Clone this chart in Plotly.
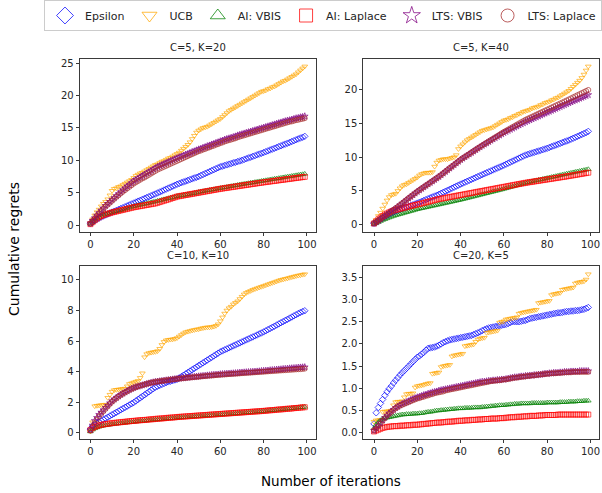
import plotly.graph_objects as go

iterations = list(range(100))
panel_titles = ["C=5, K=20", "C=5, K=40", "C=10, K=10", "C=20, K=5"]
series_names = ["Epsilon", "UCB", "AI: VBIS", "AI: Laplace", "LTS: VBIS", "LTS: Laplace"]

# ---- Panel 1: C=5, K=20 ----
p1_epsilon = [0.20,0.45,0.68,0.90,1.08,1.25,1.40,1.56,1.71,1.86,
2.00,2.14,2.27,2.41,2.55,2.68,2.83,2.97,3.11,3.26,
3.40,3.55,3.69,3.82,3.97,4.11,4.25,4.38,4.53,4.67,
4.80,4.96,5.11,5.25,5.41,5.55,5.71,5.85,6.01,6.15,
6.30,6.42,6.55,6.66,6.79,6.90,7.03,7.14,7.27,7.38,
7.50,7.66,7.80,7.96,8.10,8.25,8.41,8.55,8.71,8.85,
9.00,9.10,9.21,9.30,9.41,9.50,9.61,9.70,9.81,9.90,
10.00,10.13,10.24,10.37,10.48,10.61,10.72,10.85,10.96,11.09,
11.20,11.33,11.46,11.60,11.72,11.86,11.98,12.12,12.24,12.38,
12.50,12.64,12.76,12.90,13.03,13.17,13.30,13.44,13.56,13.70]
p1_ucb = [0.30,0.90,1.50,2.00,2.40,2.90,3.30,3.60,4.00,4.60,
5.30,5.60,5.70,5.90,6.00,6.20,6.40,6.60,6.80,7.00,
7.30,7.60,7.80,8.00,8.10,8.30,8.50,8.70,8.90,9.10,
9.30,9.40,9.60,9.80,9.90,10.10,10.30,10.40,10.60,10.80,
11.00,11.20,11.50,11.80,12.10,12.40,12.80,13.30,13.80,14.30,
14.60,14.80,15.00,15.10,15.20,15.40,15.60,15.80,16.00,16.20,
16.40,16.70,17.00,17.30,17.60,17.80,18.00,18.20,18.40,18.60,
18.80,19.00,19.20,19.40,19.60,19.80,20.00,20.20,20.40,20.60,
20.70,20.80,21.00,21.10,21.30,21.40,21.60,21.80,22.00,22.20,
22.30,22.50,22.70,22.90,23.10,23.30,23.60,23.90,24.20,24.50]
p1_ai_vbis = [0.20,0.50,0.80,1.05,1.25,1.45,1.60,1.70,1.80,1.90,
2.00,2.08,2.15,2.22,2.30,2.40,2.50,2.60,2.70,2.80,
2.90,2.97,3.05,3.12,3.20,3.27,3.35,3.42,3.50,3.57,
3.65,3.73,3.81,3.89,3.97,4.05,4.13,4.20,4.27,4.35,
4.45,4.51,4.57,4.63,4.69,4.75,4.81,4.87,4.93,4.99,
5.10,5.16,5.22,5.28,5.34,5.40,5.46,5.52,5.58,5.64,
5.70,5.76,5.82,5.88,5.94,6.00,6.06,6.12,6.18,6.24,
6.30,6.35,6.41,6.46,6.52,6.57,6.63,6.68,6.74,6.79,
6.85,6.91,6.96,7.02,7.07,7.13,7.18,7.24,7.29,7.35,
7.40,7.46,7.51,7.57,7.62,7.68,7.73,7.79,7.84,7.90]
p1_ai_laplace = [0.15,0.45,0.75,1.00,1.20,1.40,1.55,1.65,1.75,1.85,
1.95,2.03,2.11,2.19,2.27,2.35,2.43,2.51,2.59,2.67,
2.75,2.81,2.87,2.93,2.99,3.05,3.11,3.17,3.23,3.29,
3.35,3.45,3.55,3.66,3.76,3.86,3.96,4.07,4.18,4.29,
4.40,4.46,4.52,4.58,4.64,4.70,4.76,4.82,4.88,4.94,
5.00,5.06,5.12,5.18,5.24,5.30,5.36,5.42,5.48,5.54,
5.60,5.65,5.70,5.75,5.80,5.85,5.90,5.95,6.00,6.05,
6.10,6.15,6.20,6.25,6.30,6.35,6.40,6.45,6.50,6.55,
6.60,6.64,6.69,6.73,6.78,6.82,6.87,6.91,6.96,7.00,
7.05,7.09,7.14,7.18,7.23,7.27,7.32,7.36,7.41,7.45]
p1_lts_vbis = [0.30,0.70,1.10,1.50,1.90,2.30,2.60,3.00,3.30,3.60,
3.90,4.20,4.50,4.80,5.10,5.40,5.70,6.00,6.20,6.50,
6.80,7.00,7.20,7.40,7.60,7.80,8.00,8.20,8.40,8.60,
8.80,9.00,9.15,9.30,9.45,9.60,9.75,9.90,10.05,10.20,
10.35,10.50,10.60,10.75,10.90,11.00,11.15,11.30,11.40,11.55,
11.70,11.80,11.95,12.05,12.20,12.30,12.45,12.55,12.70,12.80,
12.95,13.05,13.20,13.30,13.40,13.50,13.60,13.70,13.85,13.95,
14.05,14.15,14.25,14.35,14.45,14.55,14.65,14.75,14.85,14.95,
15.05,15.15,15.25,15.35,15.45,15.55,15.65,15.75,15.85,15.95,
16.05,16.15,16.20,16.30,16.40,16.50,16.55,16.65,16.70,16.80]
p1_lts_laplace = [0.25,0.65,1.05,1.45,1.80,2.15,2.50,2.85,3.15,3.45,
3.75,4.05,4.35,4.60,4.90,5.15,5.40,5.65,5.90,6.15,
6.40,6.60,6.80,7.00,7.20,7.35,7.55,7.75,7.95,8.15,
8.35,8.55,8.70,8.85,9.00,9.15,9.30,9.45,9.60,9.75,
9.90,10.05,10.20,10.35,10.50,10.65,10.80,10.95,11.10,11.25,
11.40,11.50,11.65,11.75,11.90,12.00,12.15,12.25,12.40,12.50,
12.65,12.75,12.90,13.00,13.10,13.20,13.30,13.40,13.55,13.65,
13.75,13.85,13.95,14.05,14.15,14.25,14.35,14.45,14.55,14.65,
14.75,14.85,14.95,15.05,15.15,15.25,15.35,15.45,15.55,15.65,
15.75,15.85,15.95,16.00,16.10,16.20,16.25,16.35,16.40,16.50]

# ---- Panel 2: C=5, K=40 ----
p2_epsilon = [0.20,0.40,0.62,0.82,1.02,1.20,1.38,1.55,1.70,1.85,
2.00,2.12,2.24,2.36,2.48,2.60,2.72,2.84,2.96,3.08,
3.20,3.33,3.46,3.59,3.72,3.85,3.98,4.11,4.24,4.37,
4.50,4.65,4.80,4.95,5.10,5.25,5.40,5.55,5.70,5.85,
6.00,6.14,6.28,6.42,6.56,6.70,6.84,6.98,7.12,7.26,
7.40,7.54,7.68,7.82,7.96,8.10,8.24,8.38,8.52,8.66,
8.80,8.95,9.10,9.25,9.40,9.55,9.70,9.85,10.00,10.15,
10.30,10.40,10.50,10.60,10.70,10.80,10.90,11.00,11.10,11.20,
11.30,11.42,11.54,11.66,11.78,11.90,12.02,12.14,12.26,12.38,
12.50,12.64,12.78,12.92,13.06,13.20,13.34,13.48,13.62,13.80]
p2_ucb = [0.20,0.70,1.30,1.80,2.40,3.00,3.60,4.10,4.40,4.50,
4.60,5.00,5.40,5.70,5.90,6.00,6.20,6.40,6.60,6.80,
7.00,7.30,7.50,7.60,7.70,7.70,7.70,7.80,8.60,9.20,
9.50,9.60,9.70,9.70,9.70,9.80,9.90,10.00,10.30,11.20,
11.60,11.90,12.20,12.50,12.70,12.90,13.10,13.30,13.50,13.70,
13.90,14.00,14.10,14.20,14.30,14.40,14.60,14.80,15.00,15.20,
15.40,15.50,15.60,15.80,15.90,16.10,16.20,16.40,16.50,16.70,
16.80,16.90,17.00,17.20,17.30,17.40,17.50,17.70,17.80,18.00,
18.10,18.20,18.40,18.50,18.70,18.80,19.00,19.20,19.40,19.60,
19.80,20.10,20.40,20.70,21.00,21.30,21.70,22.20,22.80,23.40]
p2_ai_vbis = [0.10,0.25,0.40,0.55,0.70,0.82,0.95,1.07,1.18,1.29,
1.40,1.49,1.58,1.67,1.76,1.85,1.94,2.03,2.12,2.21,
2.30,2.37,2.44,2.51,2.58,2.65,2.72,2.79,2.86,2.93,
3.00,3.07,3.14,3.21,3.28,3.35,3.42,3.49,3.56,3.63,
3.70,3.78,3.86,3.94,4.02,4.10,4.18,4.26,4.34,4.42,
4.50,4.58,4.66,4.74,4.82,4.90,4.98,5.06,5.14,5.22,
5.30,5.39,5.48,5.57,5.66,5.75,5.84,5.93,6.02,6.11,
6.20,6.27,6.34,6.41,6.48,6.55,6.62,6.69,6.76,6.83,
6.90,6.97,7.04,7.11,7.18,7.25,7.32,7.39,7.46,7.53,
7.60,7.67,7.73,7.80,7.87,7.93,8.00,8.07,8.13,8.20]
p2_ai_laplace = [0.20,0.50,0.80,1.05,1.30,1.50,1.68,1.84,1.98,2.10,
2.20,2.28,2.36,2.44,2.52,2.60,2.68,2.76,2.84,2.92,
3.00,3.08,3.16,3.24,3.32,3.40,3.48,3.56,3.64,3.72,
3.80,3.86,3.92,3.98,4.04,4.10,4.16,4.22,4.28,4.34,
4.40,4.46,4.52,4.58,4.64,4.70,4.76,4.82,4.88,4.94,
5.00,5.06,5.12,5.18,5.24,5.30,5.36,5.42,5.48,5.54,
5.60,5.66,5.72,5.78,5.84,5.90,5.96,6.02,6.08,6.14,
6.20,6.25,6.30,6.35,6.40,6.45,6.50,6.55,6.60,6.65,
6.70,6.75,6.80,6.85,6.90,6.95,7.00,7.05,7.10,7.15,
7.20,7.26,7.31,7.37,7.42,7.48,7.53,7.59,7.64,7.70]
p2_lts_vbis = [0.20,0.40,0.62,0.85,1.08,1.30,1.52,1.75,1.97,2.18,
2.40,2.65,2.90,3.15,3.40,3.65,3.90,4.15,4.40,4.65,
4.90,5.12,5.34,5.56,5.78,6.00,6.22,6.44,6.66,6.88,
7.10,7.35,7.60,7.85,8.10,8.35,8.60,8.85,9.10,9.35,
9.60,9.81,10.02,10.23,10.44,10.65,10.86,11.07,11.28,11.49,
11.70,11.89,12.08,12.27,12.46,12.65,12.84,13.03,13.22,13.41,
13.60,13.76,13.92,14.08,14.24,14.40,14.56,14.72,14.88,15.04,
15.20,15.34,15.48,15.62,15.76,15.90,16.04,16.18,16.32,16.46,
16.60,16.74,16.88,17.02,17.16,17.30,17.44,17.58,17.72,17.86,
18.00,18.13,18.27,18.40,18.53,18.67,18.80,18.93,19.07,19.20]
p2_lts_laplace = [0.25,0.45,0.66,0.88,1.10,1.32,1.54,1.76,1.98,2.20,
2.42,2.67,2.92,3.17,3.42,3.67,3.92,4.17,4.42,4.67,
4.92,5.14,5.36,5.58,5.80,6.02,6.24,6.46,6.68,6.90,
7.12,7.37,7.62,7.87,8.12,8.37,8.62,8.87,9.12,9.37,
9.62,9.83,10.04,10.25,10.46,10.67,10.88,11.09,11.30,11.51,
11.72,11.92,12.12,12.32,12.52,12.72,12.92,13.12,13.32,13.52,
13.72,13.90,14.08,14.26,14.44,14.62,14.80,14.98,15.16,15.34,
15.52,15.67,15.82,15.97,16.12,16.27,16.42,16.57,16.72,16.87,
17.02,17.17,17.32,17.47,17.62,17.77,17.92,18.07,18.22,18.37,
18.52,18.68,18.84,18.99,19.15,19.30,19.46,19.61,19.77,19.92]

# ---- Panel 3: C=10, K=10 ----
p3_epsilon = [0.25,0.45,0.55,0.63,0.71,0.79,0.87,0.95,1.03,1.11,
1.19,1.27,1.35,1.43,1.51,1.59,1.67,1.75,1.83,1.91,
1.99,2.09,2.19,2.29,2.39,2.49,2.59,2.69,2.79,2.89,
2.99,3.05,3.11,3.17,3.23,3.29,3.34,3.38,3.42,3.46,
3.50,3.59,3.68,3.77,3.86,3.95,4.04,4.13,4.22,4.31,
4.40,4.49,4.58,4.67,4.76,4.85,4.94,5.03,5.12,5.21,
5.30,5.36,5.43,5.49,5.56,5.62,5.69,5.75,5.82,5.88,
5.95,6.01,6.08,6.14,6.21,6.27,6.34,6.40,6.47,6.53,
6.60,6.67,6.75,6.82,6.90,6.97,7.05,7.12,7.20,7.27,
7.35,7.42,7.50,7.57,7.65,7.72,7.80,7.87,7.93,7.98]
p3_ucb = [0.10,0.70,1.75,1.78,1.80,1.82,1.83,1.85,2.30,2.50,
2.70,2.80,2.82,2.84,2.86,2.88,2.90,3.05,3.20,3.25,
3.30,3.35,3.40,3.60,3.90,4.95,5.15,5.22,5.25,5.28,
5.30,5.35,5.50,5.75,5.95,6.05,6.08,6.10,6.12,6.15,
6.20,6.30,6.40,6.50,6.58,6.62,6.66,6.70,6.73,6.76,
6.78,6.82,6.85,6.88,6.90,6.90,6.92,6.95,7.00,7.10,
7.30,7.55,7.80,8.00,8.15,8.25,8.40,8.50,8.60,8.75,
8.90,9.05,9.15,9.22,9.28,9.35,9.40,9.45,9.50,9.55,
9.60,9.65,9.70,9.75,9.80,9.85,9.90,9.95,10.00,10.03,
10.07,10.10,10.14,10.18,10.21,10.25,10.28,10.31,10.34,10.37]
p3_ai_vbis = [0.10,0.22,0.30,0.36,0.41,0.45,0.48,0.51,0.53,0.55,
0.57,0.59,0.61,0.63,0.64,0.66,0.67,0.69,0.70,0.72,
0.73,0.75,0.76,0.78,0.79,0.80,0.82,0.83,0.85,0.86,
0.87,0.88,0.90,0.91,0.92,0.93,0.95,0.96,0.97,0.98,
1.00,1.01,1.02,1.03,1.04,1.05,1.06,1.07,1.08,1.09,
1.10,1.11,1.12,1.13,1.14,1.15,1.16,1.17,1.18,1.19,
1.20,1.21,1.22,1.23,1.24,1.25,1.26,1.27,1.28,1.29,
1.31,1.32,1.33,1.34,1.35,1.36,1.38,1.39,1.40,1.41,
1.43,1.44,1.45,1.47,1.48,1.49,1.51,1.52,1.53,1.55,
1.56,1.58,1.59,1.61,1.62,1.64,1.65,1.67,1.68,1.70]
p3_ai_laplace = [0.20,0.32,0.40,0.45,0.50,0.53,0.56,0.58,0.60,0.62,
0.64,0.66,0.67,0.69,0.70,0.72,0.73,0.75,0.76,0.78,
0.79,0.80,0.82,0.83,0.84,0.85,0.86,0.88,0.89,0.90,
0.92,0.93,0.94,0.95,0.96,0.98,0.99,1.00,1.01,1.02,
1.04,1.05,1.06,1.07,1.08,1.09,1.10,1.11,1.12,1.13,
1.14,1.15,1.16,1.17,1.18,1.19,1.20,1.21,1.22,1.23,
1.24,1.25,1.26,1.27,1.28,1.29,1.30,1.31,1.32,1.33,
1.34,1.35,1.36,1.37,1.38,1.39,1.40,1.41,1.42,1.43,
1.44,1.45,1.47,1.48,1.49,1.50,1.52,1.53,1.54,1.55,
1.57,1.58,1.59,1.60,1.62,1.63,1.64,1.66,1.67,1.68]
p3_lts_vbis = [0.20,0.50,0.80,1.00,1.20,1.35,1.50,1.65,1.80,1.95,
2.08,2.20,2.30,2.40,2.50,2.58,2.66,2.74,2.82,2.89,
2.95,3.00,3.04,3.08,3.12,3.16,3.20,3.24,3.28,3.31,
3.34,3.36,3.38,3.40,3.42,3.44,3.46,3.48,3.50,3.52,
3.54,3.56,3.58,3.59,3.61,3.62,3.64,3.65,3.67,3.68,
3.70,3.71,3.73,3.74,3.76,3.77,3.79,3.80,3.81,3.82,
3.84,3.85,3.86,3.87,3.88,3.89,3.90,3.91,3.92,3.94,
3.95,3.96,3.97,3.98,3.99,4.00,4.01,4.02,4.03,4.05,
4.06,4.07,4.08,4.10,4.11,4.12,4.14,4.15,4.16,4.18,
4.19,4.20,4.22,4.23,4.24,4.25,4.27,4.28,4.29,4.30]
p3_lts_laplace = [0.15,0.40,0.65,0.88,1.08,1.25,1.42,1.58,1.74,1.90,
2.04,2.16,2.27,2.37,2.47,2.56,2.64,2.72,2.80,2.87,
2.93,2.99,3.04,3.09,3.13,3.17,3.21,3.25,3.28,3.31,
3.34,3.36,3.38,3.40,3.42,3.44,3.46,3.48,3.50,3.51,
3.53,3.55,3.56,3.58,3.59,3.61,3.62,3.63,3.65,3.66,
3.67,3.69,3.70,3.71,3.73,3.74,3.75,3.76,3.78,3.79,
3.80,3.81,3.82,3.83,3.84,3.85,3.86,3.87,3.88,3.89,
3.90,3.91,3.92,3.93,3.94,3.95,3.96,3.97,3.98,3.99,
4.00,4.01,4.02,4.03,4.04,4.05,4.06,4.07,4.08,4.09,
4.10,4.11,4.12,4.13,4.14,4.15,4.16,4.17,4.18,4.20]

# ---- Panel 4: C=20, K=5 ----
p4_epsilon = [0.20,0.45,0.57,0.66,0.75,0.84,0.92,0.99,1.05,1.12,
1.18,1.24,1.30,1.35,1.40,1.45,1.50,1.55,1.60,1.65,
1.70,1.73,1.77,1.81,1.86,1.90,1.91,1.92,1.93,1.95,
1.97,2.00,2.03,2.05,2.07,2.09,2.10,2.11,2.12,2.13,
2.14,2.15,2.16,2.17,2.18,2.19,2.21,2.23,2.25,2.27,
2.30,2.32,2.34,2.36,2.37,2.38,2.39,2.40,2.41,2.42,
2.43,2.44,2.46,2.48,2.50,2.50,2.50,2.50,2.51,2.52,
2.53,2.55,2.57,2.58,2.59,2.60,2.61,2.62,2.63,2.64,
2.65,2.66,2.67,2.68,2.69,2.70,2.70,2.71,2.72,2.73,
2.73,2.74,2.74,2.75,2.75,2.76,2.77,2.78,2.80,2.82]
p4_ucb = [0.25,0.28,0.28,0.29,0.47,0.48,0.48,0.49,0.50,0.62,
0.69,0.70,0.70,0.71,0.80,0.87,0.88,0.88,0.89,1.02,
1.05,1.06,1.07,1.08,1.10,1.11,1.12,1.33,1.34,1.35,
1.36,1.48,1.50,1.51,1.52,1.53,1.72,1.74,1.75,1.76,
1.77,1.78,1.95,1.96,1.97,1.98,1.99,2.05,2.10,2.12,
2.13,2.14,2.25,2.26,2.27,2.28,2.29,2.30,2.48,2.50,
2.51,2.55,2.56,2.57,2.58,2.59,2.60,2.68,2.70,2.71,
2.72,2.73,2.74,2.75,2.76,2.77,2.92,2.93,2.94,2.95,
2.96,2.97,3.10,3.12,3.13,3.14,3.15,3.22,3.23,3.24,
3.25,3.26,3.27,3.36,3.38,3.39,3.40,3.41,3.45,3.57]
p4_ai_vbis = [0.10,0.18,0.24,0.28,0.31,0.33,0.34,0.35,0.36,0.37,
0.38,0.39,0.40,0.41,0.41,0.42,0.42,0.42,0.43,0.43,
0.43,0.44,0.44,0.45,0.46,0.47,0.47,0.48,0.49,0.50,
0.50,0.51,0.51,0.52,0.52,0.53,0.53,0.54,0.54,0.55,
0.55,0.55,0.56,0.56,0.56,0.56,0.57,0.57,0.57,0.57,
0.58,0.58,0.59,0.59,0.60,0.60,0.61,0.61,0.62,0.62,
0.62,0.63,0.63,0.64,0.64,0.65,0.65,0.65,0.66,0.66,
0.66,0.66,0.66,0.67,0.67,0.67,0.67,0.67,0.67,0.67,
0.68,0.68,0.68,0.68,0.68,0.68,0.69,0.69,0.69,0.69,
0.70,0.70,0.70,0.70,0.71,0.71,0.71,0.72,0.72,0.72]
p4_ai_laplace = [0.03,0.05,0.07,0.09,0.11,0.12,0.13,0.14,0.14,0.15,
0.15,0.15,0.16,0.16,0.16,0.17,0.17,0.17,0.18,0.18,
0.18,0.19,0.19,0.20,0.20,0.21,0.21,0.22,0.22,0.23,
0.23,0.23,0.24,0.24,0.25,0.25,0.25,0.26,0.26,0.27,
0.27,0.27,0.28,0.28,0.28,0.29,0.29,0.29,0.30,0.30,
0.30,0.31,0.31,0.31,0.32,0.32,0.32,0.32,0.33,0.33,
0.33,0.34,0.34,0.35,0.35,0.35,0.36,0.36,0.36,0.37,
0.37,0.37,0.38,0.38,0.38,0.38,0.39,0.39,0.39,0.40,
0.40,0.40,0.40,0.40,0.40,0.41,0.41,0.41,0.41,0.41,
0.41,0.41,0.41,0.41,0.41,0.41,0.41,0.41,0.41,0.41]
p4_lts_vbis = [0.05,0.10,0.16,0.22,0.28,0.34,0.39,0.44,0.48,0.52,
0.56,0.59,0.62,0.65,0.67,0.69,0.71,0.74,0.76,0.78,
0.80,0.81,0.83,0.85,0.86,0.88,0.89,0.91,0.92,0.93,
0.95,0.96,0.97,0.98,0.99,1.00,1.01,1.02,1.03,1.04,
1.05,1.06,1.07,1.08,1.09,1.10,1.11,1.12,1.13,1.14,
1.15,1.15,1.16,1.17,1.17,1.18,1.18,1.19,1.19,1.20,
1.20,1.21,1.22,1.23,1.24,1.25,1.25,1.26,1.27,1.27,
1.28,1.28,1.29,1.29,1.30,1.30,1.31,1.31,1.32,1.33,
1.33,1.34,1.34,1.35,1.35,1.35,1.36,1.36,1.37,1.37,
1.37,1.38,1.38,1.38,1.38,1.39,1.39,1.39,1.39,1.39]
p4_lts_laplace = [0.05,0.10,0.15,0.21,0.27,0.33,0.38,0.43,0.47,0.51,
0.55,0.58,0.61,0.63,0.65,0.67,0.69,0.71,0.73,0.75,
0.77,0.78,0.80,0.81,0.83,0.84,0.86,0.87,0.89,0.90,
0.91,0.92,0.93,0.95,0.96,0.97,0.98,0.99,1.00,1.01,
1.02,1.03,1.04,1.05,1.06,1.07,1.08,1.09,1.10,1.11,
1.12,1.13,1.14,1.15,1.16,1.17,1.17,1.18,1.18,1.19,
1.20,1.20,1.21,1.22,1.23,1.24,1.24,1.25,1.26,1.26,
1.27,1.28,1.28,1.29,1.29,1.30,1.31,1.31,1.32,1.32,
1.33,1.33,1.34,1.34,1.34,1.35,1.35,1.35,1.36,1.36,
1.36,1.36,1.37,1.37,1.37,1.37,1.37,1.37,1.37,1.37]

x_ticks = [0, 20, 40, 60, 80, 100]
y_ticks = [[0, 5, 10, 15, 20, 25], [0, 5, 10, 15, 20],
           [0, 2, 4, 6, 8, 10], [0.0, 0.5, 1.0, 1.5, 2.0, 2.5, 3.0, 3.5]]
y_tick_text = [["0", "5", "10", "15", "20", "25"], ["0", "5", "10", "15", "20"],
               ["0", "2", "4", "6", "8", "10"],
               ["0.0", "0.5", "1.0", "1.5", "2.0", "2.5", "3.0", "3.5"]]

panels = [
    [p1_epsilon, p1_ucb, p1_ai_vbis, p1_ai_laplace, p1_lts_vbis, p1_lts_laplace],
    [p2_epsilon, p2_ucb, p2_ai_vbis, p2_ai_laplace, p2_lts_vbis, p2_lts_laplace],
    [p3_epsilon, p3_ucb, p3_ai_vbis, p3_ai_laplace, p3_lts_vbis, p3_lts_laplace],
    [p4_epsilon, p4_ucb, p4_ai_vbis, p4_ai_laplace, p4_lts_vbis, p4_lts_laplace],
]

colors = ["#0000ff", "#ffa500", "#008000", "#ff0000", "#800080", "#a52a2a"]
symbols = ["diamond-open", "triangle-down-open", "triangle-up-open",
           "square-open", "star-open", "circle-open"]

W, H = 602, 493


def px_x(p):
    return p / W


def px_y(p):
    return 1 - p / H


# axes boxes in window pixels (left, right, top, bottom)
boxes = [(79.7, 315.5, 58.5, 232.0), (363.3, 599.0, 58.5, 232.0),
         (79.7, 315.5, 266.3, 439.3), (363.3, 599.0, 266.3, 439.3)]

FONT = "DejaVu Sans"
fig = go.Figure()
layout = dict(
    width=W, height=H,
    margin=dict(l=0, r=0, t=0, b=0),
    paper_bgcolor="white", plot_bgcolor="white",
    font=dict(family=FONT, size=10, color="#262626"),
    showlegend=True,
)
annotations = []

for i, (series_list, title) in enumerate(zip(panels, panel_titles)):
    n = i + 1
    xa = "x" if n == 1 else f"x{n}"
    ya = "y" if n == 1 else f"y{n}"
    l, r, t, b = boxes[i]
    allv = [v for s in series_list for v in s]
    lo, hi = min(allv), max(allv)
    pad = 0.05 * (hi - lo)
    for j, s in enumerate(series_list):
        fig.add_trace(go.Scatter(
            x=iterations, y=s, mode="markers", xaxis=xa, yaxis=ya,
            name=series_names[j], showlegend=False, hoverinfo="skip",
            marker=dict(symbol=symbols[j], size=5, color=colors[j],
                        opacity=0.75, line=dict(width=0.9, color=colors[j])),
        ))
    axis_common = dict(showline=True, linecolor="#3a3a3a", linewidth=1, mirror=True,
                       ticks="outside", ticklen=3, tickwidth=1, tickcolor="#3a3a3a",
                       showgrid=False, zeroline=False,
                       tickfont=dict(family=FONT, size=10, color="#262626"))
    layout["xaxis" if n == 1 else f"xaxis{n}"] = dict(
        domain=[px_x(l), px_x(r)], anchor=ya, range=[-4.95, 103.95],
        tickmode="array", tickvals=x_ticks, ticktext=[str(v) for v in x_ticks],
        **axis_common)
    layout["yaxis" if n == 1 else f"yaxis{n}"] = dict(
        domain=[px_y(b), px_y(t)], anchor=xa, range=[lo - pad, hi + pad],
        tickmode="array", tickvals=y_ticks[i], ticktext=y_tick_text[i],
        **axis_common)
    annotations.append(dict(
        text=title, xref="paper", yref="paper", x=px_x((l + r) / 2), y=px_y(t - 3),
        xanchor="center", yanchor="bottom", showarrow=False,
        font=dict(family=FONT, size=10, color="#262626")))

# legend-only entries (bigger symbols as in the reference legend)
for j in range(6):
    fig.add_trace(go.Scatter(
        x=[None], y=[None], mode="markers", name=series_names[j],
        marker=dict(symbol=symbols[j], size=13, color=colors[j], opacity=0.75,
                    line=dict(width=1, color=colors[j])),
    ))

annotations.append(dict(text="Cumulative regrets", xref="paper", yref="paper",
                        x=px_x(14), y=px_y(249), textangle=-90, showarrow=False,
                        xanchor="center", yanchor="middle",
                        font=dict(family=FONT, size=14, color="black")))
annotations.append(dict(text="Number of iterations", xref="paper", yref="paper",
                        x=px_x(331), y=px_y(481), showarrow=False,
                        xanchor="center", yanchor="middle",
                        font=dict(family=FONT, size=13.5, color="black")))

layout["annotations"] = annotations
layout["legend"] = dict(orientation="h", x=px_x(54), y=px_y(0), xanchor="left", yanchor="top",
                        bgcolor="white", bordercolor="#cccccc", borderwidth=1,
                        font=dict(family=FONT, size=11, color="#262626"),
                        itemsizing="trace", tracegroupgap=0)
fig.update_layout(**layout)
# remove the browser's default 8px body margin so the figure fills the window
fig.write_html("out.html",
               config={"displayModeBar": False},
               post_script="document.body.style.margin='0';document.body.style.overflow='hidden';")
